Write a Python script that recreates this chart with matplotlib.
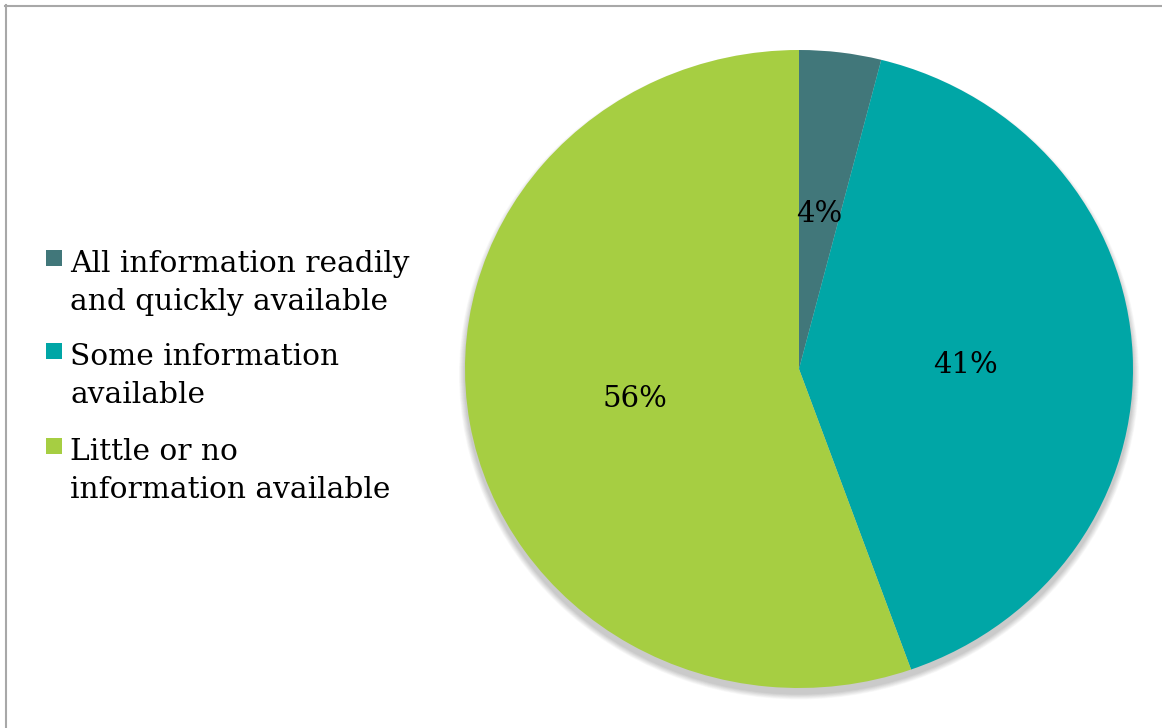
import matplotlib
matplotlib.use("Agg")
import matplotlib.pyplot as plt
from matplotlib.patches import Ellipse, Rectangle
from matplotlib.lines import Line2D

categories = [
    "All information readily\nand quickly available",
    "Some information\navailable",
    "Little or no\ninformation available",
]
shares = [4, 41, 56]
colors = ["#41777A", "#00A6A6", "#A6CE42"]

FONT = "DejaVu Serif"
W, H = 1162, 728
fig = plt.figure(figsize=(W / 100, H / 100), dpi=100)
ax = fig.add_axes([465 / W, (H - 688) / H, 668 / W, 638 / H])

# soft drop shadow under the pie
n = 9
for k in range(n):
    grow = 0.018 * (n - k) / n
    ax.add_patch(Ellipse((0, -0.018), 2 + 2 * grow, 2 + 2 * grow,
                         facecolor="#000000", alpha=0.025, edgecolor="none",
                         clip_on=False, zorder=0))

wedges, texts = ax.pie(
    shares, colors=colors, startangle=90, counterclock=False,
    labels=[f"{v}%" for v in shares], labeldistance=0.5,
    textprops=dict(fontsize=21, family=FONT, color="black"),
    wedgeprops=dict(linewidth=0), radius=1,
)
for w in wedges:
    w.set_clip_on(False)
    w.set_zorder(2)
for t in texts:
    t.set_ha("center")
    t.set_va("center_baseline")
    t.set_zorder(3)
ax.set_aspect("auto")
ax.set_xlim(-1, 1)
ax.set_ylim(-1, 1)
ax.axis("off")

# legend on the left
first_baselines = [272, 365, 460]
line_gap = 38
for label, color, base in zip(categories, colors, first_baselines):
    fig.add_artist(Rectangle((46 / W, (H - (base - 6)) / H), 16 / W, 16 / H,
                             transform=fig.transFigure, facecolor=color,
                             edgecolor="none"))
    for i, line in enumerate(label.split("\n")):
        fig.text(70 / W, (H - (base + i * line_gap)) / H, line,
                 fontsize=21.3, family=FONT, color="black",
                 ha="left", va="baseline")

# frame lines at top and left
fig.add_artist(Line2D([6 / W, 6 / W], [0, (H - 5) / H],
                      transform=fig.transFigure, color="#A8A8A8", lw=1.5))
fig.add_artist(Line2D([5 / W, 1], [(H - 5.5) / H, (H - 5.5) / H],
                      transform=fig.transFigure, color="#A8A8A8", lw=1.5))

fig.savefig("out.png", dpi=100)
